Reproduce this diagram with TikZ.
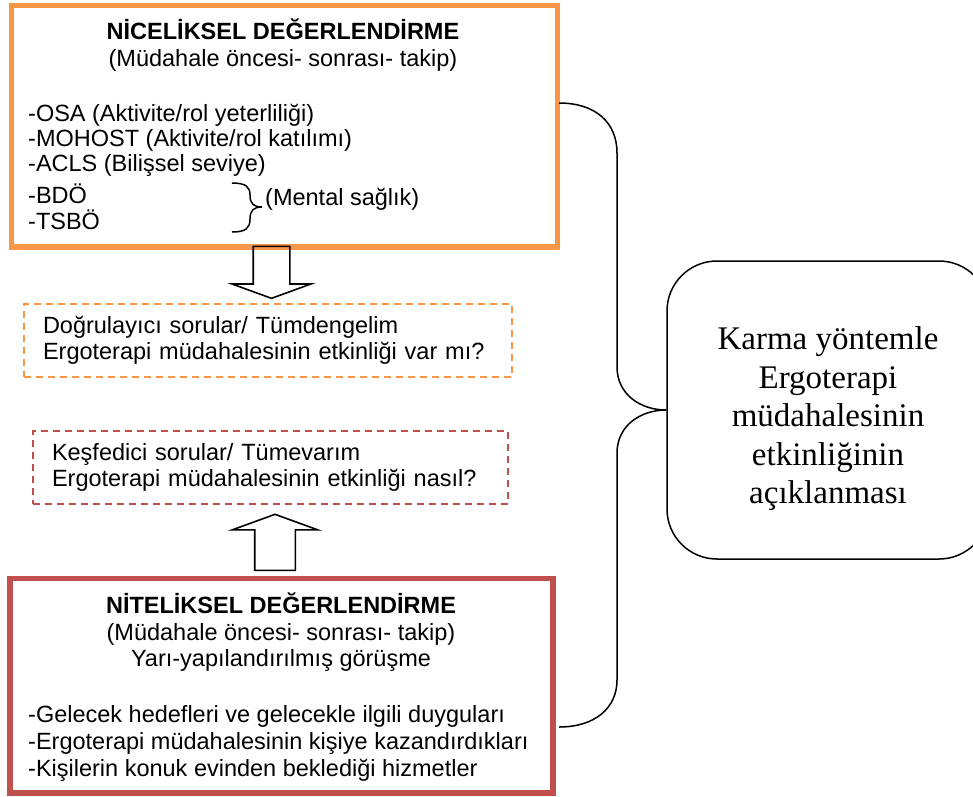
\documentclass[tikz,border=0pt]{standalone}
\usepackage{fontspec}
\setmainfont{Liberation Sans}
\newfontfamily\timesfont{Liberation Serif}
\usepackage{xcolor}
\usetikzlibrary{shapes.arrows}
\definecolor{boxorange}{HTML}{F79646}
\definecolor{boxred}{HTML}{C0504D}

\begin{document}
\begin{tikzpicture}[x=1pt, y=-1pt, font=\fontsize{23.5}{26}\selectfont,
    mainbox/.style={draw=#1, line width=5.5pt, inner sep=0pt},
    qbox/.style={draw=#1, dash pattern=on 7pt off 5pt, line width=2pt, align=left,
        inner xsep=19pt, anchor=west, minimum height=73pt},
    hollow/.style={draw, single arrow, line width=1.6pt, inner xsep=0pt,
        single arrow tip angle=140},
    txt/.style={inner sep=0pt, anchor=base west},
    ctxt/.style={inner sep=0pt, anchor=base}]
        \path[use as bounding box, clip] (0,0) rectangle (973,796);
        % Quantitative box
        \node[mainbox=boxorange, minimum width=546pt, minimum height=241.5pt] (quant) at (284.5,126.25) {};
        \node[ctxt] (quanttitle) at (283,39) {\textbf{NİCELİKSEL DEĞERLENDİRME}};
        \node[ctxt] (quantsub) at (283,66) {(Müdahale öncesi- sonrası- takip)};
        \node[txt] (osa) at (28,121) {-OSA (Aktivite/rol yeterliliği)};
        \node[txt] (mohost) at (28,146) {-MOHOST (Aktivite/rol katılımı)};
        \node[txt] (acls) at (28,171) {-ACLS (Bilişsel seviye)};
        \node[txt] (bdo) at (28,203) {-BDÖ};
        \node[txt] (tsbo) at (28,229) {-TSBÖ};
        % Small brace
        \draw[line width=1.5pt] (232,183) .. controls (246,183) and (250,187) .. (250,195)
            .. controls (250,204) and (254,207) .. (262,207)
            .. controls (254,207) and (250,210) .. (250,219)
            .. controls (250,228) and (246,232) .. (232,232);
        \node[txt] (mental) at (265,205) {(Mental sağlık)};
        % Arrows
        \node[hollow, rotate=-90, minimum height=52pt, inner ysep=17.5pt,
            single arrow head extend=21pt] (downarrow) at (271.5,269) {};
        % Question boxes
        \node[qbox=boxorange, minimum width=488pt, text width=450pt] (confirm) at (23,340.5)
            {Doğrulayıcı sorular/ Tümdengelim\\Ergoterapi müdahalesinin etkinliği var mı?};
        \node[qbox=boxred, minimum width=475pt, text width=437pt] (explore) at (32,467.5)
            {Keşfedici sorular/ Tümevarım\\Ergoterapi müdahalesinin etkinliği nasıl?};
        \node[hollow, rotate=90, minimum height=56pt, inner ysep=19.5pt,
            single arrow head extend=22.5pt] (uparrow) at (275,546) {};
        % Qualitative box
        \node[mainbox=boxred, minimum width=543pt, minimum height=214.5pt] (qual) at (281.5,685.75) {};
        \node[ctxt] (qualtitle) at (281,613) {\textbf{NİTELİKSEL DEĞERLENDİRME}};
        \node[ctxt] (qualsub) at (281,640) {(Müdahale öncesi- sonrası- takip)};
        \node[ctxt] (interview) at (281,666) {Yarı-yapılandırılmış görüşme};
        \node[txt] (goals) at (28,722) {-Gelecek hedefleri ve gelecekle ilgili duyguları};
        \node[txt] (gains) at (28,749) {-Ergoterapi müdahalesinin kişiye kazandırdıkları};
        \node[txt] (services) at (28,776) {-Kişilerin konuk evinden beklediği hizmetler};
        % Result box
        \node[draw, line width=1.5pt, rounded corners=50pt, minimum width=322pt,
            minimum height=298pt] (goal) at (828,410) {};
        \node[align=center, inner sep=0pt, font=\timesfont\fontsize{33}{38.5}\selectfont]
            (goaltext) at (828,419) {Karma yöntemle\\Ergoterapi\\müdahalesinin\\etkinliğinin\\açıklanması};
        % Big brace
        \coordinate (bracetop) at (559,103);
        \coordinate (bracebottom) at (559,727);
        \draw[line width=1.5pt] (bracetop) .. controls (595,103) and (617,122) .. (617,153)
            -- (617,367) .. controls (617,394) and (640,410) .. (goal.west)
            .. controls (640,410) and (617,426) .. (617,453)
            -- (617,680) .. controls (617,708) and (595,727) .. (bracebottom);
\end{tikzpicture}
\end{document}
